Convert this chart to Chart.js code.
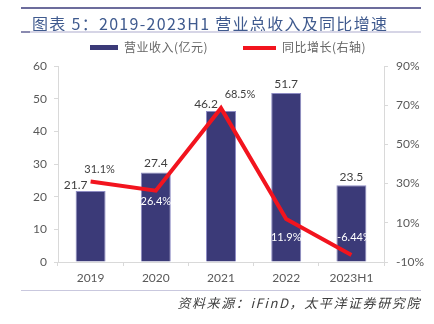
<!DOCTYPE html>
<html>
<head>
<meta charset="utf-8">
<script src="https://cdn.jsdelivr.net/npm/chart.js@4/dist/chart.umd.min.js"></script>
<style>
  body { margin: 0; background: #fff; font-family: Lato, "Noto Sans CJK SC", sans-serif; }
  .wrap { position: relative; width: 434px; height: 324px; overflow: hidden; }
  #chart { position: absolute; left: 0; top: 0; }
  .rule { position: absolute; left: 21px; width: 400px; }
  .title { position: absolute; left: 32px; top: 11px; font: 16px "Noto Sans CJK SC", sans-serif; color: #3f5a8e; letter-spacing: 1.3px; white-space: nowrap; }
  .legend { position: absolute; top: 38px; font: 12px "Noto Sans CJK SC", sans-serif; color: #666; letter-spacing: 0.5px; white-space: nowrap; }
  .legend span.sw { display: inline-block; width: 28px; height: 5px; vertical-align: middle; margin-right: 6px; position: relative; top: -1px; }
  .source { position: absolute; right: 13px; top: 293px; font: italic 13px "Noto Sans CJK SC", sans-serif; color: #404040; letter-spacing: 1.6px; white-space: nowrap; }
</style>
</head>
<body>
<div class="wrap">
  <canvas id="chart" width="434" height="324"></canvas>
  <div class="rule" style="top:7px;height:2px;background:#6c6c9c;"></div>
  <div class="title">图表 5：2019-2023H1 营业总收入及同比增速</div>
  <div class="rule" style="top:31px;height:2px;background:#d6d5e6;"></div>
  <div style="position:absolute;left:21px;top:31px;width:9px;height:2px;background:#8a8ab0;"></div>
  <div class="legend" style="left:90px;"><span class="sw" style="background:#3b3a78;"></span>营业收入(亿元)</div>
  <div class="legend" style="left:243px;"><span class="sw" style="background:#f2141e;width:33px;height:4px;"></span>同比增长(右轴)</div>
  <div class="rule" style="top:290px;height:1px;background:#c9c8de;"></div>
  <div class="source">资料来源：iFinD，太平洋证券研究院</div>
</div>
<script>
const categories = ["2019", "2020", "2021", "2022", "2023H1"];
const revenue = [21.7, 27.4, 46.2, 51.7, 23.5];
const growth = [31.1, 26.4, 68.5, 11.9, -6.44];
const growthLabels = ["31.1%", "26.4%", "68.5%", "11.9%", "-6.44%"];

// label placement, relative to the bar top / line point
const barLabelPos = [[-15, -6], [0, -9], [-15, -7], [0, -9], [0, -8]];
const lineLabelPos = [[9, -12], [0, 11], [19, -14], [0, 18], [3, -18]];
const lineLabelColor = ["#404040", "#ffffff", "#404040", "#ffffff", "#ffffff"];

const valueLabels = {
  id: "valueLabels",
  afterDatasetsDraw(chart) {
    const c = chart.ctx;
    c.save();
    c.textAlign = "center";
    c.textBaseline = "middle";
    c.font = "12px Lato, sans-serif";
    chart.getDatasetMeta(0).data.forEach((bar, i) => {
      c.fillStyle = "#404040";
      c.fillText(revenue[i].toFixed(1), bar.x + barLabelPos[i][0], bar.y + barLabelPos[i][1]);
    });
    c.font = "11px Lato, sans-serif";
    chart.getDatasetMeta(1).data.forEach((pt, i) => {
      c.fillStyle = lineLabelColor[i];
      c.fillText(growthLabels[i], pt.x + lineLabelPos[i][0], pt.y + lineLabelPos[i][1]);
    });
    c.restore();
  }
};

const tickFont = { family: "Lato, sans-serif", size: 12 };

new Chart(document.getElementById("chart"), {
  data: {
    labels: categories,
    datasets: [
      {
        type: "bar",
        label: "营业收入(亿元)",
        data: revenue,
        backgroundColor: "#3b3a78",
        borderColor: "#8e8cc4",
        borderWidth: 1,
        categoryPercentage: 1,
        barPercentage: 0.46,
        yAxisID: "y",
        order: 2
      },
      {
        type: "line",
        label: "同比增长(右轴)",
        data: growth,
        borderColor: "#f2141e",
        borderWidth: 4,
        pointRadius: 0,
        tension: 0,
        yAxisID: "y1",
        order: 1
      }
    ]
  },
  options: {
    responsive: false,
    animation: false,
    layout: { padding: { top: 66, left: 0, right: 0, bottom: 0 } },
    plugins: { legend: { display: false }, tooltip: { enabled: false } },
    scales: {
      x: {
        grid: { offset: true, drawOnChartArea: false, tickLength: 4, color: "#d9d9d9" },
        border: { color: "#d9d9d9" },
        ticks: { color: "#595959", font: tickFont, padding: 5 },
        afterFit(s) { s.height = 62; }
      },
      y: {
        position: "left",
        min: 0, max: 60,
        grid: { drawOnChartArea: false, tickLength: 4, color: "#d9d9d9" },
        border: { color: "#d9d9d9" },
        ticks: { stepSize: 10, color: "#595959", font: tickFont, padding: 7 },
        afterFit(s) { s.width = 58; }
      },
      y1: {
        position: "right",
        min: -10, max: 90,
        grid: { drawOnChartArea: false, tickLength: 4, color: "#d9d9d9" },
        border: { color: "#d9d9d9" },
        ticks: { stepSize: 20, color: "#595959", font: tickFont, padding: 8, callback: v => v + "%" },
        afterFit(s) { s.width = 50; }
      }
    }
  },
  plugins: [valueLabels]
});
</script>
</body>
</html>
